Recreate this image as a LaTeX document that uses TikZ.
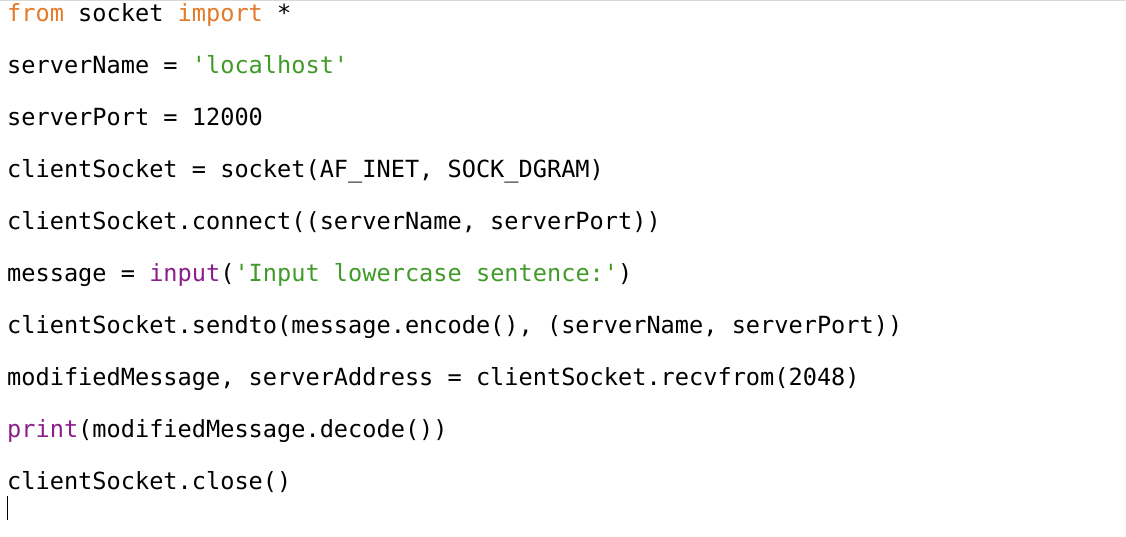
\documentclass[tikz,border=0pt]{standalone}
\usepackage{fontspec}
\setmonofont{DejaVu Sans Mono}
\definecolor{kw}{RGB}{228,122,40}
\definecolor{str}{RGB}{64,155,40}
\definecolor{bi}{RGB}{140,30,140}
\begin{document}
\begin{tikzpicture}[x=1pt,y=1pt,
  code/.style={anchor=base west,inner sep=0pt,font=\fontsize{23.6}{28}\ttfamily}]
\useasboundingbox (0,0) rectangle (1126,537);
\fill[white] (0,0) rectangle (1126,537);
\draw[gray!30] (0,536.5) -- (1126,536.5);
\node[code] (l1) at (7,515) {\textcolor{kw}{from} socket \textcolor{kw}{import} *};
\node[code] (l2) at (7,463) {serverName = \textcolor{str}{'localhost'}};
\node[code] (l3) at (7,411) {serverPort = 12000};
\node[code] (l4) at (7,359) {clientSocket = socket(AF\_INET, SOCK\_DGRAM)};
\node[code] (l5) at (7,307) {clientSocket.connect((serverName, serverPort))};
\node[code] (l6) at (7,255) {message = \textcolor{bi}{input}(\textcolor{str}{'Input lowercase sentence:'})};
\node[code] (l7) at (7,203) {clientSocket.sendto(message.encode(), (serverName, serverPort))};
\node[code] (l8) at (7,151) {modifiedMessage, serverAddress = clientSocket.recvfrom(2048)};
\node[code] (l9) at (7,99) {\textcolor{bi}{print}(modifiedMessage.decode())};
\node[code] (l10) at (7,47) {clientSocket.close()};
\draw[line width=1.5pt] (7.5,17) -- (7.5,41);
\end{tikzpicture}
\end{document}
